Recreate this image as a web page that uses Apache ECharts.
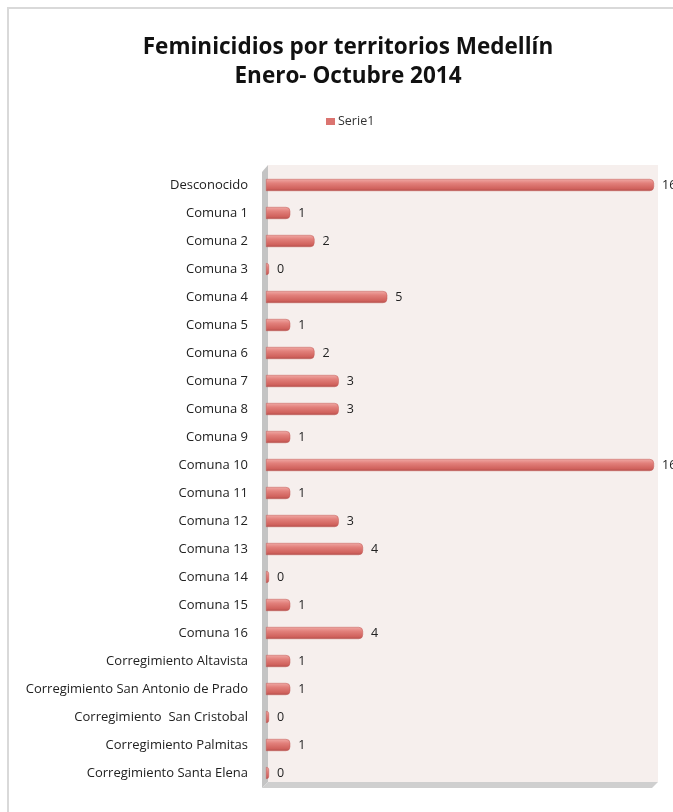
<!DOCTYPE html>
<html>
<head>
<meta charset="utf-8">
<script src="https://cdn.jsdelivr.net/npm/echarts@6/dist/echarts.min.js"></script>
<style>
html,body{margin:0;padding:0;background:#fff;}
#c{width:673px;height:812px;}
</style>
</head>
<body>
<div id="c"></div>
<script>
var categories = ["Desconocido","Comuna 1","Comuna 2","Comuna 3","Comuna 4","Comuna 5","Comuna 6","Comuna 7","Comuna 8","Comuna 9","Comuna 10","Comuna 11","Comuna 12","Comuna 13","Comuna 14","Comuna 15","Comuna 16","Corregimiento Altavista","Corregimiento San Antonio de Prado","Corregimiento  San Cristobal","Corregimiento Palmitas","Corregimiento Santa Elena"];
var serie1 = [16,1,2,0,5,1,2,3,3,1,16,1,3,4,0,1,4,1,1,0,1,0];
var titleLines = ["Feminicidios por territorios Medellín","Enero- Octubre 2014"];
var seriesName = "Serie1";

var chart = echarts.init(document.getElementById('c'), null, {renderer:'canvas'});
var font = "'Open Sans', 'Liberation Sans', sans-serif";
var barGrad = new echarts.graphic.LinearGradient(0,0,0,1,[
  {offset:0,color:'#f0a9a5'},
  {offset:0.35,color:'#e2807b'},
  {offset:0.8,color:'#d0625d'},
  {offset:1,color:'#b24e4a'}
]);
chart.setOption({
  animation:false,
  backgroundColor:'#fff',
  title:{
    text:titleLines.join('\n'),
    left:343,
    textAlign:'center',
    top:28,
    textStyle:{fontFamily:font,fontWeight:'bold',fontSize:22.5,color:'#111',lineHeight:29,align:'center'}
  },
  legend:{
    top:110,
    left:321,
    itemWidth:9,itemHeight:7,itemGap:4,
    textStyle:{fontFamily:font,fontSize:12.5,color:'#333',padding:[0,0,0,-2]},
    data:[{name:seriesName,icon:'rect',itemStyle:{color:'#db7470',borderWidth:0}}]
  },
  graphic:[
    {type:'rect',shape:{x:8,y:8,width:700,height:820},style:{fill:'none',stroke:'#d9d9d9',lineWidth:2},z:-10},
    {type:'rect',shape:{x:268,y:165,width:390,height:617},style:{fill:'#f6efed'},z:-5},
    {type:'polygon',shape:{points:[[262,172],[268,165],[268,782],[262,788]]},style:{fill:'#c4c4c4'},z:-4},
    {type:'polygon',shape:{points:[[262,788],[268,782],[658,782],[652,788]]},style:{fill:'#cfcfcf'},z:-4}
  ],
  grid:{left:266,right:19,top:171,bottom:25,containLabel:false},
  xAxis:{type:'value',min:0,max:16,show:false},
  yAxis:{
    type:'category',
    data:categories,
    inverse:true,
    axisLine:{show:false},axisTick:{show:false},
    axisLabel:{margin:18,fontFamily:font,fontSize:13,color:'#222'}
  },
  series:[{
    name:seriesName,
    type:'bar',
    data:serie1,
    barWidth:12,
    barMinHeight:3,
    itemStyle:{color:barGrad,borderRadius:[0,4,4,0],borderColor:'#c25a56',borderWidth:0.5},
    label:{show:true,position:'right',distance:8,fontFamily:font,fontSize:12.5,color:'#222'}
  }],
  color:['#d9706c']
});
</script>
</body>
</html>
